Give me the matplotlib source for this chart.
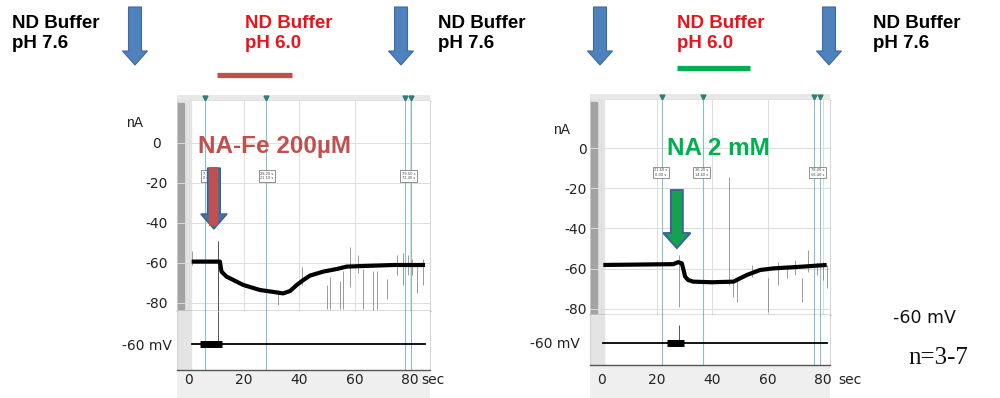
import matplotlib.pyplot as plt
from matplotlib.patches import FancyArrow, Rectangle

plt.rcParams['axes.unicode_minus'] = False

W, H = 1000, 398

# ---- left recording: NA-Fe 200 uM (current in nA vs time in s) ----
fe_t = [1.0, 11.2, 11.8, 13.6, 19.7, 25.7, 31.7, 34.1, 36.6, 39.0, 41.4,
        43.8, 48.6, 53.5, 57.1, 63.1, 74.0, 85.4]
fe_i = [-59.3, -59.3, -64.3, -66.8, -71.0, -73.5, -74.7, -75.2, -74.0, -71.0,
        -68.5, -66.3, -64.3, -63.0, -61.8, -61.5, -61.0, -61.0]
# thin transients: time, upper end, lower end
fe_spk_t = [1.0, 10.6, 32.3, 40.8, 49.8, 51.0, 54.7, 55.9, 58.3, 61.3, 63.1,
            66.7, 67.9, 71.6, 75.2, 77.6, 79.4, 80.6, 82.4, 84.8]
fe_spk_hi = [-54, -49, -74, -62, -71, -67, -69, -64, -52, -56, -63, -64, -64,
             -68, -56, -55, -56, -58, -61, -58]
fe_spk_lo = [-61, -85, -81, -71, -83, -83, -83, -83, -72, -65, -83, -83.5,
             -83, -78, -66, -71, -66, -66, -75, -71]
fe_cursors = [5.8, 27.9, 78.2, 80.4]
fe_box_t = [7.1, 28.2, 79.5]
fe_vnoise = [4.0, 12.0]
fe_vspike = [10.6, -27.0, -60.0]

# ---- right recording: NA 2 mM ----
na_t = [0.8, 26.0, 27.8, 29.1, 30.3, 31.4, 33.2, 40.0, 47.7, 52.5, 57.3,
        62.1, 72.9, 81.3]
na_i = [-58.2, -57.8, -56.8, -57.4, -64.0, -65.7, -66.5, -66.8, -66.5,
        -63.2, -60.7, -59.9, -59.0, -58.2]
na_spk_t = [28.2, 46.2, 47.5, 49.1, 54.3, 60.3, 63.9, 66.9, 69.9, 72.3, 74.7,
            77.7, 80.1, 81.3]
na_spk_hi = [-53.2, -14.3, -65.7, -65.7, -58.2, -64.8, -56.5, -58.2, -55.7,
             -64.8, -50.7, -56.5, -56.5, -58.2]
na_spk_lo = [-79.0, -68.2, -74.0, -76.4, -64.0, -81.4, -68.2, -64.8, -63.2,
             -76.4, -61.5, -63.2, -65.7, -69.9]
na_cursors = [21.9, 36.6, 76.8, 78.9]
na_box_t = [21.6, 36.2, 78.0]
na_vnoise = [23.6, 29.7]
na_vspike = [28.2, -42.0, -60.0]

t_ticks = [0, 20, 40, 60, 80]
i_ticks = [0, -20, -40, -60, -80]
v_hold = -60

fig = plt.figure(figsize=(10, 3.98), dpi=100)
fig.patch.set_facecolor('white')


def px_axes(x0, y0, x1, y1, **kw):
    return fig.add_axes([x0 / W, 1 - y1 / H, (x1 - x0) / W, (y1 - y0) / H], **kw)


def clean(ax):
    ax.set_xticks([])
    ax.set_yticks([])
    for s in ax.spines.values():
        s.set_visible(False)


def panel(x0, x1, y_bar, y_top, y_mid, y_bot, tlim, ilim, vlim,
          t, i, spk_t, spk_hi, spk_lo, cursors, box_t, vnoise, vspike,
          ypad, yha, vpad, xpad, sec_dx, box_i):
    band = px_axes(x0, y_bot, x1, H)
    band.set_facecolor('#efefef')
    clean(band)

    bar = px_axes(x0, y_bar, x1, y_top)
    bar.set_facecolor('#e8e8e8')
    clean(bar)
    bar.spines['bottom'].set_visible(True)
    bar.spines['bottom'].set_color('#6d6d6d')
    bar.set_xlim(tlim)
    bar.set_ylim(0, 1)
    bar.plot(cursors, [0.55] * len(cursors), 'v', color='#2f7d74', ms=3.5)

    ax = px_axes(x0, y_top, x1, y_mid)
    ax.set_xlim(tlim)
    ax.set_ylim(ilim)
    ax.set_xticks(t_ticks)
    ax.set_yticks(i_ticks)
    ax.grid(True, color='#dcdcdc', lw=0.7)
    ax.tick_params(length=0, labelbottom=False, labelsize=10, pad=ypad,
                   labelcolor='#222222')
    for lab in ax.get_yticklabels():
        lab.set_ha(yha)
    for s in ax.spines.values():
        s.set_color('#cfcfcf')
        s.set_linewidth(0.6)
    ax.spines['top'].set_visible(False)
    ax.spines['bottom'].set_color('#555555')
    ax.spines['bottom'].set_linewidth(1.0)
    wpx = x1 - x0
    ax.add_patch(Rectangle((0, 0), 14 / wpx, 1, transform=ax.transAxes,
                           color='#e4e4e4', zorder=1))
    ax.add_patch(Rectangle((0, 0.01), 7 / wpx, 0.98, transform=ax.transAxes,
                           color='#a3a3a3', zorder=1))
    for c in cursors:
        ax.axvline(c, color='#8dbccb', lw=0.8, zorder=2)
    for bt in box_t:
        ax.text(bt, box_i, f'{bt:.2f} s\n{bt - box_t[0]:.2f} s',
                fontsize=2.6, ha='center', va='center', color='#444444',
                zorder=4, bbox=dict(fc='white', ec='#666666', lw=0.5, pad=1.2))
    ax.vlines(spk_t, spk_lo, spk_hi, color='#8a8a8a', lw=0.6, zorder=3)
    ax.plot(t, i, color='black', lw=3.0, solid_capstyle='butt', zorder=5)

    axv = px_axes(x0, y_mid, x1, y_bot)
    axv.set_xlim(tlim)
    axv.set_ylim(vlim)
    axv.set_xticks(t_ticks)
    axv.set_yticks([v_hold])
    axv.set_yticklabels([f'{v_hold} mV'])
    axv.tick_params(axis='y', length=0, labelsize=10, pad=vpad, labelcolor='#222222')
    axv.tick_params(axis='x', length=0, labelsize=10, pad=xpad, labelcolor='#222222')
    for s in axv.spines.values():
        s.set_color('#cfcfcf')
        s.set_linewidth(0.6)
    axv.spines['top'].set_visible(False)
    axv.spines['bottom'].set_color('#555555')
    axv.spines['bottom'].set_linewidth(1.0)
    axv.add_patch(Rectangle((0, 0), 14 / wpx, 1, transform=axv.transAxes,
                            color='#e4e4e4', zorder=1))
    for c in cursors:
        axv.axvline(c, color='#8dbccb', lw=0.8, zorder=2)
    axv.plot([t[0], t[-1]], [v_hold, v_hold], color='black', lw=1.3, zorder=4)
    axv.plot(vnoise, [v_hold, v_hold], color='black', lw=5.0,
             solid_capstyle='butt', zorder=4)
    axv.vlines(vspike[0], vspike[2], vspike[1], color='#555555', lw=0.7, zorder=3)
    axv.annotate('sec', xy=(t_ticks[-1], 0), xycoords=('data', 'axes fraction'),
                 xytext=(sec_dx, -xpad), textcoords='offset points',
                 ha='left', va='top', fontsize=10, color='#222222',
                 annotation_clip=False)
    return ax, axv


fe_ax, fe_axv = panel(177, 430, 95, 101, 311, 370, (-4.3, 87.2), (-84, 21),
                      (-85.7, -26.7), fe_t, fe_i, fe_spk_t, fe_spk_hi, fe_spk_lo,
                      fe_cursors, fe_box_t, fe_vnoise, fe_vspike,
                      ypad=15, yha='center', vpad=3.6, xpad=2.2, sec_dx=8,
                      box_i=-16.5)
fe_ax.vlines(fe_vspike[0], fe_spk_hi[1], fe_ax.get_ylim()[0], color='#555555',
             lw=0.7, zorder=3)

na_ax, na_axv = panel(590, 830, 94, 100, 315, 365, (-4.0, 82.5), (-83.1, 23.9),
                      (-82, -32), na_t, na_i, na_spk_t, na_spk_hi, na_spk_lo,
                      na_cursors, na_box_t, na_vnoise, na_vspike,
                      ypad=2.2, yha='right', vpad=7.2, xpad=5.8, sec_dx=11,
                      box_i=-12.2)

# drug labels and application arrows inside the traces
fe_ax.text(3.3, -2, 'NA-Fe 200µM', color='#c0504d', fontsize=17.5,
           fontweight='bold', family='Liberation Sans', va='center', zorder=6)
fe_ax.add_patch(FancyArrow(9.05, -12.5, 0, -30.5, width=4.6, head_width=9.5,
                           head_length=7.5, length_includes_head=True,
                           fc='#4a6e9e', ec='#3b5f8c', lw=1.0, zorder=6))
fe_ax.add_patch(Rectangle((9.05 - 1.6, -41.5), 3.2, 29.5, fc='#c0504d',
                          ec='none', zorder=7))

na_ax.text(23.8, 0, 'NA 2 mM', color='#00b050', fontsize=17.5,
           fontweight='bold', family='Liberation Sans', va='center', zorder=6)
na_ax.add_patch(FancyArrow(27.3, -20.9, 0, -28.9, width=4.3, head_width=9.8,
                           head_length=7.5, length_includes_head=True,
                           fc='#14a150', ec='#3b6597', lw=1.4, zorder=6))

fe_ax.text(-0.166, 0.895, 'nA', transform=fe_ax.transAxes, fontsize=10,
           family='Liberation Sans', ha='center', va='center', color='#222222')
na_ax.text(-0.117, 0.86, 'nA', transform=na_ax.transAxes, fontsize=10,
           family='Liberation Sans', ha='center', va='center', color='#222222')

# ---- slide annotations above the traces (pixel coordinates) ----
ov = fig.add_axes([0, 0, 1, 1], zorder=-1)
ov.set_xlim(0, W)
ov.set_ylim(H, 0)
ov.axis('off')

buffer_x = [12, 245, 438, 677, 873]
buffer_ph = ['7.6', '6.0', '7.6', '6.0', '7.6']
buffer_col = ['black', '#e8141c', 'black', '#e8141c', 'black']
for bx, ph, col in zip(buffer_x, buffer_ph, buffer_col):
    ov.text(bx, 28, 'ND Buffer', color=col, fontsize=13.5, fontweight='bold',
            family='Liberation Sans', va='baseline')
    ov.text(bx, 48, f'pH {ph}', color=col, fontsize=13.5, fontweight='bold',
            family='Liberation Sans', va='baseline')

for ax_x in [135, 401, 600, 829]:
    ov.add_patch(FancyArrow(ax_x, 7, 0, 58, width=13, head_width=25,
                            head_length=14, length_includes_head=True,
                            fc='#4f81bd', ec='#3d6a9e', lw=0.8))

ov.plot([217, 292], [74.5, 74.5], color='#c0504d', lw=3.8, solid_capstyle='butt')
ov.plot([677, 750], [67.5, 67.5], color='#00b050', lw=3.8, solid_capstyle='butt')

ov.text(924, 318, '-60 mV', fontsize=12.5, ha='center', va='center', color='#111111')
ov.text(938, 358, 'n=3-7', fontsize=18, family='Liberation Serif',
        ha='center', va='center', color='#111111')

fig.savefig('out.png', dpi=100)
